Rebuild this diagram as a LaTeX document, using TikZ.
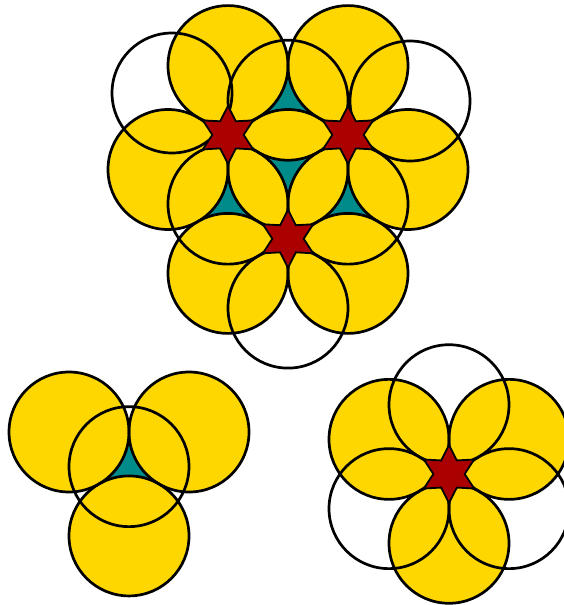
\documentclass[tikz,border=0pt]{standalone}
\usetikzlibrary{shapes.geometric}
\definecolor{discyellow}{HTML}{FFD700}
\definecolor{gapteal}{HTML}{008B8B}
\definecolor{starred}{HTML}{AA0000}
\tikzset{
  disc/.style={fill=discyellow},
  ring/.style={draw=black,line width=2.7pt},
  gap/.style={fill=gapteal},
  hexstar/.style={star,star points=6,star point ratio=1.85,minimum size=58pt,
    inner sep=0pt,fill=starred,draw=black,line width=1.8pt}
}
% curved triangle left between three touching discs of radius 60pt;
% #1 = centre of the gap, #2 = canvas direction of the first disc
\newcommand\gapfill[2]{%
  \fill[gap] ([shift={(#1)}]{#2-60}:34.64pt)
    arc[start angle={#2+210}, end angle={#2+150}, radius=60pt]
    arc[start angle={#2+330}, end angle={#2+270}, radius=60pt]
    arc[start angle={#2+450}, end angle={#2+390}, radius=60pt] -- cycle;}
\begin{document}
\begin{tikzpicture}[x=1pt,y=-1pt]
\useasboundingbox (0,0) rectangle (564,605);
% ---------- top figure ----------
\coordinate (O)  at (288,169.5);
\coordinate (TL) at (228,65.6);
\coordinate (TR) at (348,65.6);
\coordinate (L)  at (168,169.5);
\coordinate (R)  at (408,169.5);
\coordinate (BL) at (228,273.4);
\coordinate (BR) at (348,273.4);
\coordinate (Bt) at (288,100.22);
\coordinate (Bl) at (228,204.14);
\coordinate (Br) at (348,204.14);
\coordinate (WL) at (172,93);
\coordinate (WR) at (410,101);
\coordinate (WB) at (288,308.1);
\coordinate (S1) at (228,134.86);
\coordinate (S2) at (348,134.86);
\coordinate (S3) at (288,238.78);
% ---------- bottom-left figure ----------
\coordinate (P1) at (69,432);
\coordinate (P2) at (189,432);
\coordinate (P3) at (129,535.92);
\coordinate (Pc) at (129,466.64);
% ---------- bottom-right figure ----------
\coordinate (C)  at (449,474);
\coordinate (UL) at (389,439.36);
\coordinate (UR) at (509,439.36);
\coordinate (Bo) at (449,543.28);
\coordinate (Tp) at (449,404.72);
\coordinate (LL) at (389,508.64);
\coordinate (LR) at (509,508.64);
% yellow discs
\foreach \c in {O,TL,TR,L,R,BL,BR,P1,P2,P3,UL,UR,Bo}
  \fill[disc] (\c) circle[radius=60pt];
% teal gaps
\gapfill{O}{90}
\gapfill{Bt}{30}
\gapfill{Bl}{30}
\gapfill{Br}{30}
\gapfill{Pc}{30}
% outlines
\foreach \c in {O,TL,TR,L,R,BL,BR,Bt,Bl,Br,WL,WR,WB,P1,P2,P3,Pc,UL,UR,Bo,Tp,LL,LR}
  \draw[ring] (\c) circle[radius=60pt];
% stars
\node[hexstar] (star1) at (S1) {};
\node[hexstar] (star2) at (S2) {};
\node[hexstar] (star3) at (S3) {};
\node[hexstar] (star4) at (C) {};
\end{tikzpicture}
\end{document}
